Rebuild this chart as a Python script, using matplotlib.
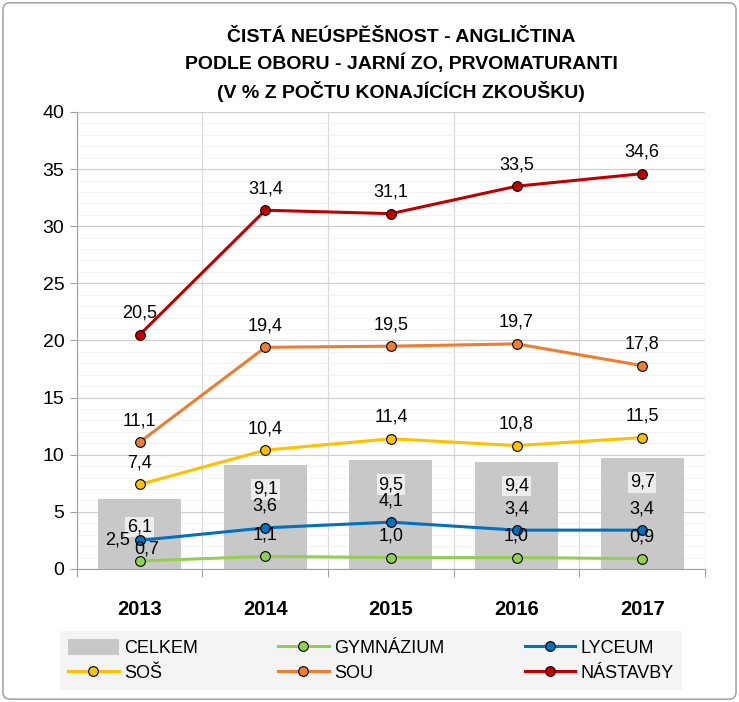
import matplotlib
matplotlib.use('Agg')
import matplotlib.pyplot as plt
from matplotlib.patches import FancyBboxPatch

plt.rcParams['font.family'] = ['Liberation Sans', 'DejaVu Sans']

years = ['2013', '2014', '2015', '2016', '2017']
celkem = [6.1, 9.1, 9.5, 9.4, 9.7]
gymnazium = [0.7, 1.1, 1.0, 1.0, 0.9]
lyceum = [2.5, 3.6, 4.1, 3.4, 3.4]
sos = [7.4, 10.4, 11.4, 10.8, 11.5]
sou = [11.1, 19.4, 19.5, 19.7, 17.8]
nastavby = [20.5, 31.4, 31.1, 33.5, 34.6]

def fmt(v):
    return ('%.1f' % v).replace('.', ',')

fig = plt.figure(figsize=(7.39, 7.02), dpi=100)
ax = fig.add_axes([0.104, 0.1895, 0.85, 0.651])

x = list(range(len(years)))
ax.bar(x, celkem, width=0.66, color='#c8c8c8', label='CELKEM', zorder=2)

series = [
    (gymnazium, '#92d050', 'GYMNÁZIUM'),
    (lyceum, '#0070c0', 'LYCEUM'),
    (sos, '#ffc000', 'SOŠ'),
    (sou, '#ed7d31', 'SOU'),
    (nastavby, '#c00000', 'NÁSTAVBY'),
]
handles = {}
for vals, col, name in series:
    h, = ax.plot(x, vals, color=col, lw=2.2, marker='o', ms=7,
                 markerfacecolor=col, markeredgecolor='black', markeredgewidth=0.8,
                 label=name, zorder=4)
    handles[name] = h

# popisky hodnot
for i, v in enumerate(celkem):
    dy = -20 if i == 0 else -17.5
    ax.annotate(fmt(v), (i, v), xytext=(0, dy), textcoords='offset points',
                ha='center', va='center', fontsize=13, zorder=3,
                bbox=dict(boxstyle='square,pad=0.1', fc='#ededed', ec='none'))
for vals, col, name in series:
    for i, v in enumerate(vals):
        dx, dy = 0, 15.5
        if name == 'LYCEUM' and i == 0:
            dx, dy = -16, 0.5
        if name == 'GYMNÁZIUM' and i == 0:
            dx, dy = 5, 8.5
        ax.annotate(fmt(v), (i, v), xytext=(dx, dy), textcoords='offset points',
                    ha='center', va='center', fontsize=13, zorder=5)

ax.set_xlim(-0.5, 4.5)
ax.set_ylim(0, 40)
ax.set_yticks(range(0, 41, 5))
ax.set_yticks(range(0, 41, 1), minor=True)
ax.set_xticks([i + 0.5 for i in range(-1, 5)])
ax.set_xticklabels([])
ax.set_xticks(x, minor=True)
ax.set_xticklabels(years, minor=True, fontsize=14.5, fontweight='bold')
ax.tick_params(axis='x', which='minor', length=0, pad=22)
ax.tick_params(axis='x', which='major', length=6, color='#a0a0a0', direction='out')
ax.tick_params(axis='y', which='major', labelsize=14, length=5, color='#a0a0a0', pad=4)
ax.tick_params(axis='y', which='minor', length=0)

ax.grid(axis='y', which='major', color='#d0d0d0', lw=0.9, zorder=0)
ax.grid(axis='y', which='minor', color='#f0f0f0', lw=0.6, zorder=0)
ax.grid(axis='x', which='major', color='#d9d9d9', lw=0.9, zorder=0)
ax.set_axisbelow(True)
for s in ['top', 'right']:
    ax.spines[s].set_visible(False)
ax.spines['left'].set_color('#a0a0a0')
ax.spines['bottom'].set_color('#a0a0a0')

fig.suptitle('ČISTÁ NEÚSPĚŠNOST - ANGLIČTINA\nPODLE OBORU - JARNÍ ZO, PRVOMATURANTI\n(V % Z POČTU KONAJÍCÍCH ZKOUŠKU)',
             x=0.543, y=0.958, fontsize=14, fontweight='bold', linespacing=1.45)

bar_handle = ax.patches[0]
order = ['CELKEM', 'SOŠ', 'GYMNÁZIUM', 'SOU', 'LYCEUM', 'NÁSTAVBY']
hs = [bar_handle if n == 'CELKEM' else handles[n] for n in order]
leg = fig.legend(hs, order, loc='lower left', bbox_to_anchor=(0.081, 0.017, 0.842, 0.088),
                 mode='expand', ncol=3, fontsize=13, frameon=True, fancybox=False,
                 handlelength=2.8, handleheight=1.0, borderpad=0.45, labelspacing=0.35,
                 handletextpad=0.3, borderaxespad=0)
leg.get_frame().set_facecolor('#f2f2f2')
leg.get_frame().set_edgecolor('none')

border = FancyBboxPatch((0.004, 0.004), 0.992, 0.992, boxstyle='round,pad=0,rounding_size=0.01',
                        transform=fig.transFigure, fill=False, ec='#a6a6a6', lw=1.2)
fig.patches.append(border)

fig.savefig('out.png', dpi=100)
